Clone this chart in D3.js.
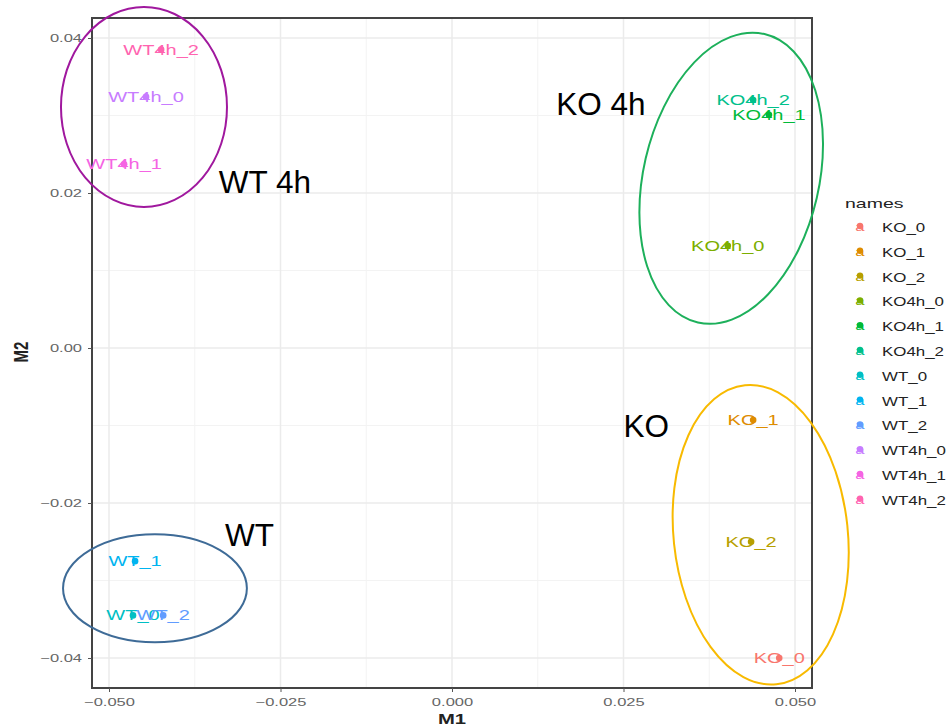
<!DOCTYPE html>
<html>
<head>
<meta charset="utf-8">
<script src="https://cdn.jsdelivr.net/npm/d3@7/dist/d3.min.js"></script>
<style>
  body { margin: 0; background: #fff; }
  svg { display: block; font-family: "Liberation Sans", Arial, sans-serif; }
</style>
</head>
<body>
<div id="chart"></div>
<script>
// MDS-style sample plot, M1 vs M2
const names = ["KO_0", "KO_1", "KO_2", "KO4h_0", "KO4h_1", "KO4h_2",
               "WT_0", "WT_1", "WT_2", "WT4h_0", "WT4h_1", "WT4h_2"];
const m1 = [0.0477, 0.0439, 0.0436, 0.0402, 0.0462, 0.0439,
            -0.0465, -0.0462, -0.0421, -0.0446, -0.0478, -0.0424];
const m2 = [-0.0400, -0.0093, -0.0250, 0.0132, 0.0301, 0.0320,
            -0.0345, -0.0275, -0.0345, 0.0324, 0.0237, 0.0385];
const palette = ["#F8766D", "#DE8C00", "#B79F00", "#7CAE00", "#00BA38", "#00C08B",
                 "#00BFC4", "#00B4F0", "#619CFF", "#C77CFF", "#F564E3", "#FF64B0"];

const xTicks = [-0.05, -0.025, 0, 0.025, 0.05];
const xTickLabels = ["\u22120.050", "\u22120.025", "0.000", "0.025", "0.050"];
const xMinor = [-0.0375, -0.0125, 0.0125, 0.0375];
const yTicks = [0.04, 0.02, 0, -0.02, -0.04];
const yTickLabels = ["0.04", "0.02", "0.00", "\u22120.02", "\u22120.04"];
const yMinor = [0.03, 0.01, -0.01, -0.03];

// hand-drawn group outlines (data units)
const groupNames = ["WT 4h", "KO 4h", "KO", "WT"];
const groupCx = [-0.0449, 0.0407, 0.0450, -0.0433];
const groupCy = [0.0311, 0.0219, -0.0241, -0.0310];
const groupRx = [0.0121, 0.0128, 0.0127, 0.0134];
const groupRy = [0.0129, 0.0191, 0.0194, 0.00697];
const groupTilt = [0, 13, -6, 0];
const groupColors = ["#A0189E", "#1DB05B", "#F8BA00", "#3E6B97"];
const groupLabelX = [-0.0340, 0.0152, 0.0250, -0.0331];
const groupLabelY = [0.0200, 0.0301, -0.0115, -0.0255];

const W = 949, H = 727;
const panel = { left: 92, right: 812, top: 18, bottom: 688 };

const svg = d3.select('#chart').append('svg')
    .attr('width', W).attr('height', H);

const x = d3.scaleLinear().domain([-0.05, 0.05]).range([109, 795]);
const y = d3.scaleLinear().domain([0.04, -0.04]).range([38, 658]);

// grid
const grid = svg.append('g');
grid.selectAll('line.xmin').data(xMinor).join('line')
    .attr('x1', d => x(d)).attr('x2', d => x(d))
    .attr('y1', panel.top).attr('y2', panel.bottom)
    .attr('stroke', '#F3F3F3').attr('stroke-width', 1);
grid.selectAll('line.ymin').data(yMinor).join('line')
    .attr('y1', d => y(d)).attr('y2', d => y(d))
    .attr('x1', panel.left).attr('x2', panel.right)
    .attr('stroke', '#F3F3F3').attr('stroke-width', 1);
grid.selectAll('line.xmaj').data(xTicks).join('line')
    .attr('x1', d => x(d)).attr('x2', d => x(d))
    .attr('y1', panel.top).attr('y2', panel.bottom)
    .attr('stroke', '#EBEBEB').attr('stroke-width', 1.5);
grid.selectAll('line.ymaj').data(yTicks).join('line')
    .attr('y1', d => y(d)).attr('y2', d => y(d))
    .attr('x1', panel.left).attr('x2', panel.right)
    .attr('stroke', '#EBEBEB').attr('stroke-width', 1.5);

// panel border
svg.append('rect')
    .attr('x', panel.left).attr('y', panel.top)
    .attr('width', panel.right - panel.left).attr('height', panel.bottom - panel.top)
    .attr('fill', 'none').attr('stroke', '#444').attr('stroke-width', 2);

// axes
const xAxis = svg.append('g').attr('transform', `translate(0,${panel.bottom})`)
    .call(d3.axisBottom(x).tickValues(xTicks).tickSize(4).tickFormat((d, i) => xTickLabels[i]));
const yAxis = svg.append('g').attr('transform', `translate(${panel.left},0)`)
    .call(d3.axisLeft(y).tickValues(yTicks).tickSize(4).tickFormat((d, i) => yTickLabels[i]));
[xAxis, yAxis].forEach(a => {
    a.select('.domain').remove();
    a.selectAll('.tick line').attr('stroke', '#555');
    a.selectAll('.tick text').attr('fill', '#666').attr('font-size', 11)
        .attr('font-family', '"Liberation Sans", Arial, sans-serif');
});
xAxis.selectAll('.tick text').attr('y', 10).attr('dy', '0.71em')
    .attr('transform', 'scale(1.5,1)').attr('x', 0);
yAxis.selectAll('.tick text').attr('transform', 'scale(1.5,1)')
    .attr('x', -10 / 1.5);

// points
const idx = d3.range(names.length);
svg.append('g').selectAll('circle').data(idx).join('circle')
    .attr('cx', i => x(m1[i])).attr('cy', i => y(m2[i]))
    .attr('r', 3.3).attr('fill', i => palette[i]);

// labels
svg.append('g').selectAll('text').data(idx).join('text')
    .attr('transform', i => `translate(${x(m1[i])},${y(m2[i]) + 5}) scale(1.38,1)`)
    .attr('text-anchor', 'middle')
    .attr('font-size', 14.5)
    .attr('fill', i => palette[i])
    .text(i => names[i]);

// group outlines
svg.append('g').selectAll('ellipse').data(groupNames).join('ellipse')
    .attr('transform', (d, i) => `translate(${x(groupCx[i])},${y(groupCy[i])}) rotate(${groupTilt[i]})`)
    .attr('rx', (d, i) => x(groupRx[i]) - x(0))
    .attr('ry', (d, i) => y(0) - y(groupRy[i]))
    .attr('fill', 'none')
    .attr('stroke', (d, i) => groupColors[i])
    .attr('stroke-width', 2);

svg.append('g').selectAll('text').data(groupNames).join('text')
    .attr('x', (d, i) => x(groupLabelX[i]))
    .attr('y', (d, i) => y(groupLabelY[i]))
    .attr('font-size', 31.5)
    .attr('fill', '#000')
    .text(d => d);

// axis titles
svg.append('text')
    .attr('transform', `translate(452,724) scale(1.35,1)`)
    .attr('text-anchor', 'middle').attr('font-size', 15).attr('font-weight', 'bold')
    .attr('fill', '#222').text('M1');
svg.append('text')
    .attr('transform', `translate(28,352) rotate(-90) scale(1,1.4)`)
    .attr('text-anchor', 'middle').attr('font-size', 15).attr('font-weight', 'bold')
    .attr('fill', '#222').text('M2');

// legend
const legend = svg.append('g').attr('transform', 'translate(845,0)');
legend.append('text')
    .attr('transform', 'translate(0,208) scale(1.5,1)')
    .attr('font-size', 13).attr('fill', '#222').text('names');
const rows = legend.selectAll('g.row').data(idx).join('g')
    .attr('transform', i => `translate(0,${227 + i * 24.8})`);
rows.append('circle').attr('cx', 15).attr('cy', -1).attr('r', 3.2)
    .attr('fill', i => palette[i]);
rows.append('text').attr('transform', 'translate(15,4) scale(1.4,1)')
    .attr('text-anchor', 'middle').attr('font-size', 12)
    .attr('fill', i => palette[i]).text('a');
rows.append('text')
    .attr('transform', 'translate(37,5) scale(1.3,1)')
    .attr('font-size', 13).attr('fill', '#222')
    .text(i => names[i]);
</script>
</body>
</html>
